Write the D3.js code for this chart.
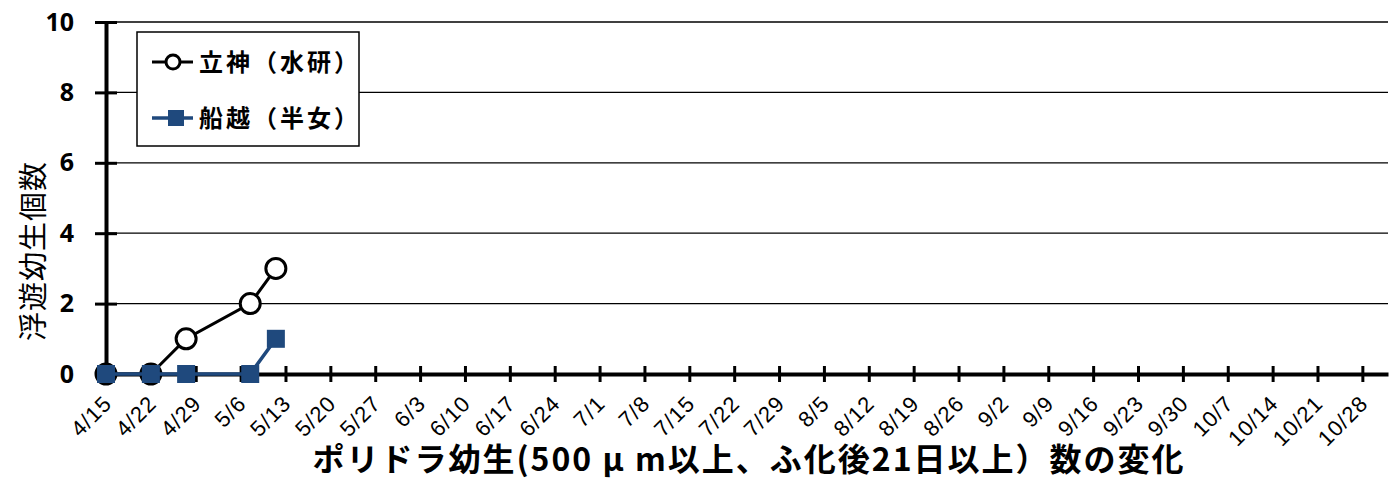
<!DOCTYPE html>
<html>
<head>
<meta charset="utf-8">
<script src="https://cdn.jsdelivr.net/npm/d3@7"></script>
<style>
  body { margin: 0; background: #fff; }
  svg { display: block; }
  .cjk { font-family: "Noto Sans CJK JP", "Noto Sans", sans-serif; }
  .xlab { font-family: "Liberation Sans", Arial, sans-serif; font-size: 22px; letter-spacing: 1px; fill: #000; }
</style>
</head>
<body>
<div id="chart"></div>
<script>
// Data
const seriesNames = ["立神（水研）", "船越（半女）"];
const tatigamiDates = ["2023-04-15", "2023-04-22", "2023-04-27T12:00", "2023-05-07T12:00", "2023-05-11T12:00"];
const tatigamiValues = [0, 0, 1, 2, 3];
const funakoshiDates = ["2023-04-15", "2023-04-22", "2023-04-27T12:00", "2023-05-07T12:00", "2023-05-11T12:00"];
const funakoshiValues = [0, 0, 0, 0, 1];
const yTicks = [0, 2, 4, 6, 8, 10];
const xStart = "2023-04-15T00:00";
const xEnd = "2023-11-01T00:00";
const weekCount = 29; // 4/15 .. 10/28

const W = 1394, H = 482;
const margin = { top: 22, right: 6, bottom: 108, left: 106 };

const svg = d3.select("#chart")
    .append("svg")
    .attr("width", W)
    .attr("height", H);

const x = d3.scaleTime()
    .domain([new Date(xStart), new Date(xEnd)])
    .range([margin.left, W - margin.right]);

const y = d3.scaleLinear()
    .domain([0, 10])
    .range([H - margin.bottom, margin.top]);

// weekly ticks counted from the first date
const ticks = d3.range(0, weekCount).map(i => d3.timeDay.offset(new Date(xStart), i * 7));
const fmt = d3.timeFormat("%-m/%-d");

// Gridlines
svg.append("g")
    .selectAll("line")
    .data(yTicks.filter(v => v > 0))
    .enter()
    .append("line")
    .attr("x1", margin.left)
    .attr("x2", W - margin.right)
    .attr("y1", d => y(d))
    .attr("y2", d => y(d))
    .attr("stroke", "#000")
    .attr("stroke-width", 1.3);

// Y axis
const yAxis = svg.append("g")
    .attr("transform", `translate(${margin.left},0)`)
    .call(d3.axisLeft(y).tickValues(yTicks).tickSize(0).tickPadding(32));
yAxis.select(".domain").attr("stroke-width", 4);
yAxis.selectAll(".tick text")
    .attr("font-family", "'Open Sans', 'Liberation Sans', sans-serif")
    .attr("font-weight", 700)
    .attr("font-size", 25)
    .attr("fill", "#000");
yAxis.selectAll(".tick")
    .append("line")
    .attr("x1", -11)
    .attr("x2", 11)
    .attr("stroke", "#000")
    .attr("stroke-width", 3);

// X axis (labels drawn separately, rotated 45deg)
const xAxis = svg.append("g")
    .attr("transform", `translate(0,${y(0)})`)
    .call(d3.axisBottom(x).tickValues(ticks).tickFormat("").tickSize(0));
xAxis.select(".domain").attr("stroke-width", 4);
xAxis.selectAll(".tick")
    .append("line")
    .attr("y1", -8)
    .attr("y2", 8)
    .attr("stroke", "#000")
    .attr("stroke-width", 3);

svg.append("g")
    .selectAll("text")
    .data(ticks)
    .enter()
    .append("text")
    .attr("class", "xlab")
    .attr("text-anchor", "end")
    .attr("transform", d => `translate(${x(d) + 7},${y(0) + 31}) rotate(-45)`)
    .text(fmt);

// Series
const tatigami = tatigamiDates.map((d, i) => ({ date: new Date(d), value: tatigamiValues[i] }));
const funakoshi = funakoshiDates.map((d, i) => ({ date: new Date(d), value: funakoshiValues[i] }));

const line = d3.line()
    .x(d => x(d.date))
    .y(d => y(d.value));

const blue = "#1f497d";

svg.append("path")
    .datum(tatigami)
    .attr("fill", "none")
    .attr("stroke", "#000")
    .attr("stroke-width", 3)
    .attr("d", line);

svg.append("g")
    .selectAll("circle")
    .data(tatigami)
    .enter()
    .append("circle")
    .attr("cx", d => x(d.date))
    .attr("cy", d => y(d.value))
    .attr("r", 10)
    .attr("fill", "#fff")
    .attr("stroke", "#000")
    .attr("stroke-width", 3);

svg.append("path")
    .datum(funakoshi)
    .attr("fill", "none")
    .attr("stroke", blue)
    .attr("stroke-width", 3.5)
    .attr("d", line);

svg.append("g")
    .selectAll("rect")
    .data(funakoshi)
    .enter()
    .append("rect")
    .attr("x", d => x(d.date) - 9)
    .attr("y", d => y(d.value) - 9)
    .attr("width", 18)
    .attr("height", 18)
    .attr("fill", blue);

// Legend
const legend = svg.append("g").attr("transform", "translate(137,32)");
legend.append("rect")
    .attr("width", 222)
    .attr("height", 114)
    .attr("fill", "#fff")
    .attr("stroke", "#000")
    .attr("stroke-width", 1.5);

const l1 = legend.append("g").attr("transform", "translate(0,30)");
l1.append("line").attr("x1", 15).attr("x2", 56).attr("stroke", "#000").attr("stroke-width", 3);
l1.append("circle").attr("cx", 36).attr("r", 7).attr("fill", "#fff").attr("stroke", "#000").attr("stroke-width", 3);
l1.append("text").attr("class", "cjk").attr("x", 62).attr("dy", "0.36em")
    .attr("font-size", 24).attr("font-weight", 700).attr("letter-spacing", 3).text(seriesNames[0]);

const l2 = legend.append("g").attr("transform", "translate(0,86)");
l2.append("line").attr("x1", 15).attr("x2", 56).attr("stroke", blue).attr("stroke-width", 3.5);
l2.append("rect").attr("x", 31).attr("y", -8).attr("width", 16).attr("height", 16).attr("fill", blue);
l2.append("text").attr("class", "cjk").attr("x", 62).attr("dy", "0.36em")
    .attr("font-size", 24).attr("font-weight", 700).attr("letter-spacing", 3).text(seriesNames[1]);

// Axis titles
svg.append("text")
    .attr("class", "cjk")
    .attr("transform", "translate(44,251) rotate(-90)")
    .attr("text-anchor", "middle")
    .attr("font-size", 29)
    .attr("letter-spacing", 1)
    .text("浮遊幼生個数");

svg.append("text")
    .attr("class", "cjk")
    .attr("x", 749)
    .attr("y", 471)
    .attr("text-anchor", "middle")
    .attr("font-size", 32)
    .attr("font-weight", 700)
    .attr("letter-spacing", 2)
    .text("ポリドラ幼生(500 μ m以上、ふ化後21日以上）数の変化");
</script>
</body>
</html>
